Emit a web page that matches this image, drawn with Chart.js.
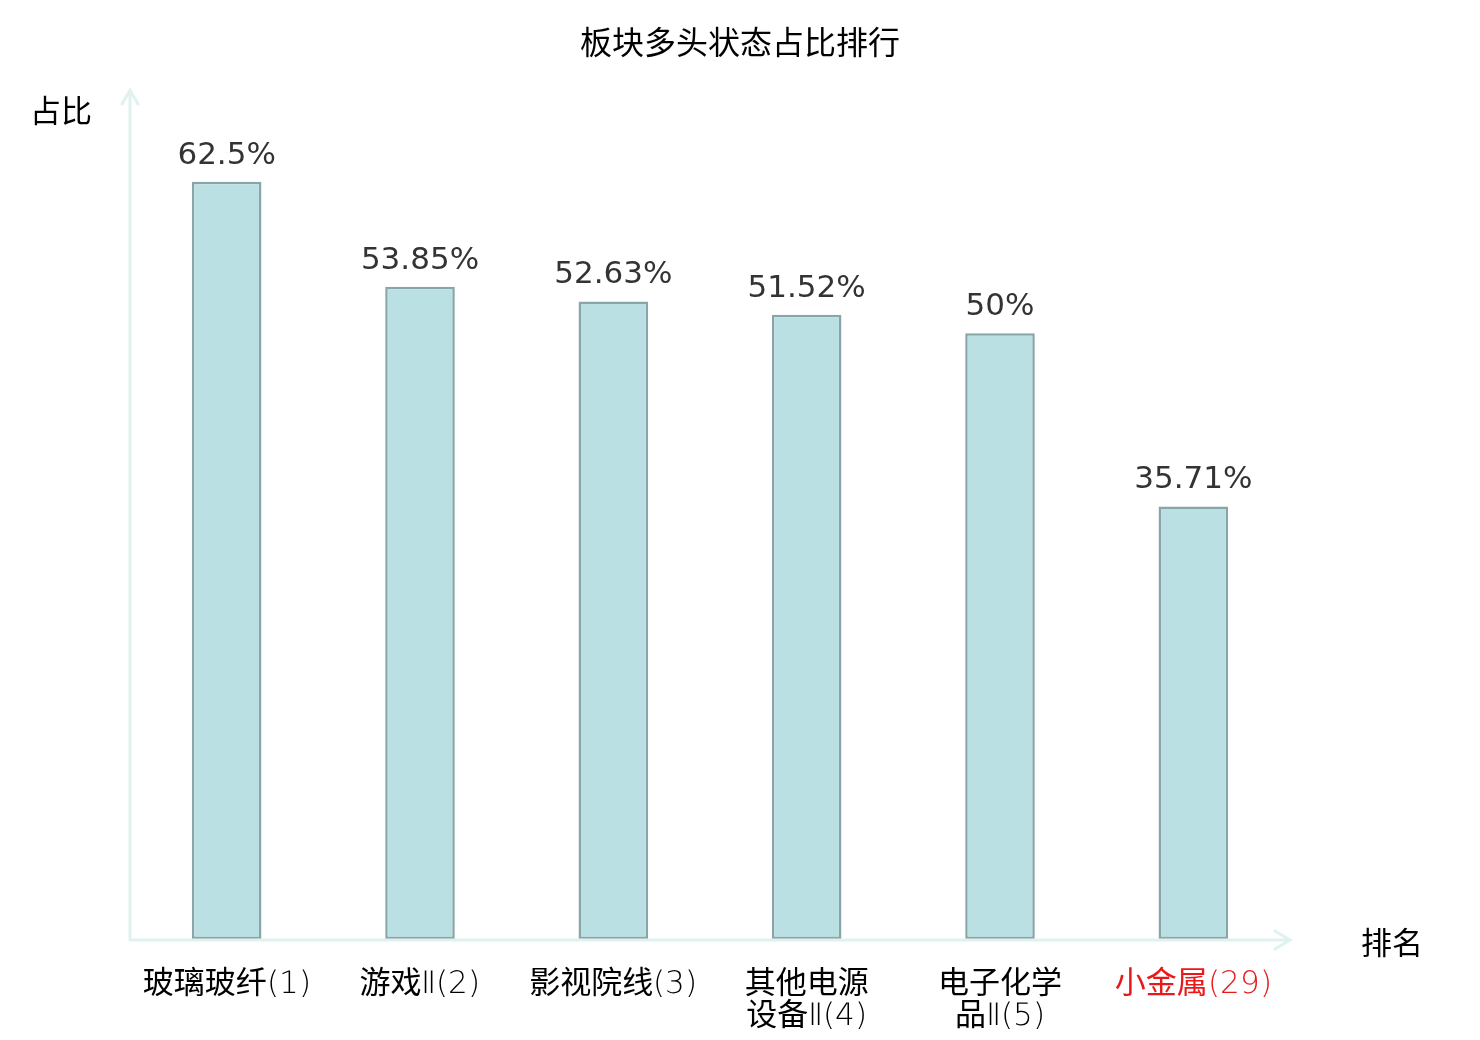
<!DOCTYPE html>
<html>
<head>
<meta charset="utf-8">
<script src="https://cdn.jsdelivr.net/npm/chart.js@4/dist/chart.umd.min.js"></script>
<style>
  @font-face {
    font-family: 'TickLatin';
    src: local('DejaVu Sans ExtraLight'), local('DejaVuSans-ExtraLight');
    unicode-range: U+0000-00FF, U+2160-217F;
  }
  html, body { margin: 0; padding: 0; background: #fff; }
  #wrap { width: 1480px; height: 1040px; }
</style>
</head>
<body>
<div id="wrap"><canvas id="rankChart" width="1480" height="1040"></canvas></div>
<script>
// sector names (split in lines like the picture) and bullish share in %
const categories = [
  ['玻璃玻纤(1)'],
  ['游戏Ⅱ(2)'],
  ['影视院线(3)'],
  ['其他电源', '设备Ⅱ(4)'],
  ['电子化学', '品Ⅱ(5)'],
  ['小金属(29)']
];
const shares = [62.5, 53.85, 52.63, 51.52, 50, 35.71];
const shareLabels = ['62.5%', '53.85%', '52.63%', '51.52%', '50%', '35.71%'];
const tickColors = ['#000', '#000', '#000', '#000', '#000', '#e8191a'];

const FONT = "'DejaVu Sans', 'Noto Sans CJK SC', sans-serif";
const CJK_FONT = "'Noto Sans CJK SC', sans-serif";
const TICK_FONT = "'TickLatin', 'Noto Sans CJK SC', sans-serif";
const AXIS_COLOR = '#dff2f0';

// axis arrows, axis names, title and value labels
const decorations = {
  id: 'decorations',
  afterDatasetsDraw(chart) {
    const ctx = chart.ctx;
    const a = chart.chartArea;
    ctx.save();

    ctx.strokeStyle = AXIS_COLOR;
    ctx.lineWidth = 3;
    ctx.lineCap = 'round';
    ctx.beginPath();
    ctx.moveTo(a.left, a.bottom + 1);
    ctx.lineTo(a.left, a.top - 1);
    ctx.moveTo(a.left - 8, a.top + 13);
    ctx.lineTo(a.left, a.top - 1);
    ctx.lineTo(a.left + 8, a.top + 13);
    ctx.moveTo(a.left, a.bottom + 1);
    ctx.lineTo(a.right, a.bottom + 1);
    ctx.moveTo(a.right - 15, a.bottom - 8);
    ctx.lineTo(a.right, a.bottom + 1);
    ctx.lineTo(a.right - 15, a.bottom + 10);
    ctx.stroke();

    ctx.fillStyle = '#000';
    ctx.font = '32px ' + CJK_FONT;
    ctx.textBaseline = 'middle';
    ctx.textAlign = 'center';
    ctx.fillText('板块多头状态占比排行', 740, 42);
    ctx.font = '31px ' + CJK_FONT;
    ctx.textAlign = 'right';
    ctx.fillText('占比', 92, 110);
    ctx.textAlign = 'left';
    ctx.fillText('排名', 1361, 942);

    // value labels above the bars
    ctx.fillStyle = '#333';
    ctx.font = '31px ' + FONT;
    ctx.textAlign = 'center';
    ctx.textBaseline = 'alphabetic';
    chart.getDatasetMeta(0).data.forEach((bar, i) => {
      ctx.fillText(shareLabels[i], bar.x, bar.y - 18);
    });
    ctx.restore();
  }
};

function drawChart() {
  new Chart(document.getElementById('rankChart').getContext('2d'), {
    type: 'bar',
    data: {
      labels: categories,
      datasets: [{
        data: shares,
        backgroundColor: '#bbe0e3',
        borderColor: '#88a6a8',
        borderWidth: 2.5,
        borderSkipped: false,
        barPercentage: 0.72,
        categoryPercentage: 0.5
      }]
    },
    options: {
      responsive: false,
      devicePixelRatio: 1,
      animation: false,
      layout: { padding: { left: 130, right: 190, top: 91, bottom: 0 } },
      plugins: {
        legend: { display: false },
        title: { display: false },
        tooltip: { enabled: false }
      },
      scales: {
        x: {
          grid: { display: false, drawTicks: false },
          border: { display: false },
          ticks: {
            color: tickColors,
            padding: 30,
            maxRotation: 0,
            autoSkip: false,
            font: { family: TICK_FONT, size: 31, lineHeight: 1.04 }
          },
          afterFit(scale) { scale.height = 101; }
        },
        y: {
          display: false,
          min: 0,
          max: 70
        }
      }
    },
    plugins: [decorations]
  });
}

// wait for the light digit face so the tick labels are measured with it
document.fonts.load("31px 'TickLatin'", '(1)Ⅱ').then(drawChart, drawChart);
</script>
</body>
</html>
